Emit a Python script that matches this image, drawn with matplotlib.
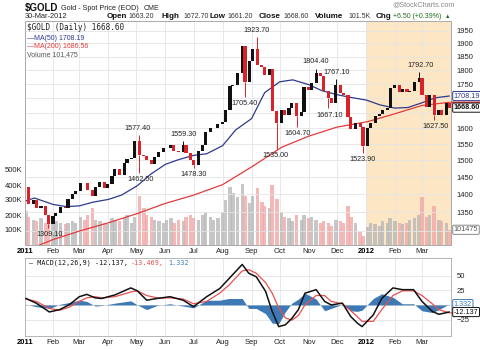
import numpy as np
import pandas as pd
import matplotlib
matplotlib.use('Agg')
import matplotlib.pyplot as plt
from matplotlib import font_manager

names = {f.name for f in font_manager.fontManager.ttflist}
NARROW = 'Liberation Sans Narrow' if 'Liberation Sans Narrow' in names else 'Liberation Sans'
plt.rcParams['font.family'] = [NARROW, 'DejaVu Sans']
MONO = ['DejaVu Sans Mono', 'DejaVu Sans']

# price samples, every 3rd trading day from 3 Jan 2011 to 30 Mar 2012
dates = pd.bdate_range('2011-01-03', '2012-03-30')[::3]
first_open = 1420.0
closes = [1422, 1372, 1384, 1362, 1369, 1344, 1318, 1340, 1348, 1364,
          1362, 1386, 1401, 1410, 1434, 1432, 1414, 1396, 1420, 1437,
          1418, 1431, 1454, 1474, 1457, 1493, 1505, 1506, 1560, 1516,
          1514, 1502, 1489, 1511, 1526, 1537, 1538, 1546, 1529, 1526,
          1548, 1521, 1500, 1486, 1528, 1548, 1588, 1600, 1601, 1615,
          1621, 1659, 1742, 1745, 1790, 1891, 1758, 1834, 1878, 1817,
          1813, 1784, 1805, 1658, 1617, 1660, 1645, 1666, 1683, 1641,
          1655, 1741, 1730, 1755, 1790, 1780, 1724, 1700, 1685, 1747,
          1720, 1713, 1636, 1598, 1617, 1604, 1545, 1601, 1617, 1642,
          1646, 1659, 1667, 1737, 1745, 1722, 1734, 1722, 1725, 1758,
          1773, 1713, 1672, 1711, 1645, 1660, 1645, 1685, 1668.6]
volume_k = [230, 190, 170, 160, 180, 150, 200,
            190, 160, 150, 140, 150, 160, 150,
            190, 170, 200, 250, 170, 160, 150, 140,
            180, 170, 160, 180, 200, 150, 190,
            330, 250, 200, 190, 170, 160, 150,
            170, 180, 150, 170, 160, 190, 200, 180,
            170, 200, 220, 190, 170, 180,
            220, 300, 390, 350, 320, 410, 330, 280,
            330, 380, 290, 260, 250, 400, 310,
            220, 190, 180, 160, 200, 170, 200, 180,
            190, 170, 150, 160, 150, 130, 170,
            160, 150, 260, 190, 150, 90, 60,
            120, 150, 140, 130, 160, 150, 180,
            160, 150, 140, 150, 170, 180, 200,
            320, 190, 200, 260, 170, 160, 150, 101.5]

# labelled highs / lows
mark_dates = ['2011-01-28', '2011-05-02', '2011-05-05', '2011-06-20', '2011-07-01',
              '2011-08-24', '2011-09-06', '2011-09-26', '2011-10-20', '2011-11-08',
              '2011-11-23', '2011-12-01', '2011-12-29', '2012-02-28', '2012-03-15']
mark_prices = [1309.10, 1577.40, 1462.50, 1559.30, 1478.30,
               1705.40, 1923.70, 1535.00, 1604.70, 1804.40,
               1667.10, 1767.10, 1523.90, 1792.70, 1627.50]
mark_is_high = [False, True, False, True, False,
                False, True, False, False, True,
                False, True, False, True, False]

ma50_dates = ['2011-01-03', '2011-01-12', '2011-02-01', '2011-02-15', '2011-03-01',
              '2011-03-15', '2011-04-01', '2011-04-15', '2011-05-02', '2011-05-16',
              '2011-06-01', '2011-06-15', '2011-07-01', '2011-07-15', '2011-08-01',
              '2011-08-15', '2011-09-01', '2011-09-15', '2011-10-01', '2011-10-15',
              '2011-11-01', '2011-11-15', '2011-12-01', '2011-12-15', '2012-01-02',
              '2012-01-16', '2012-02-01', '2012-02-15', '2012-03-01', '2012-03-15',
              '2012-03-30']
ma50 = [1382, 1390, 1372, 1366, 1368, 1378, 1386, 1398, 1425, 1458,
        1488, 1502, 1515, 1520, 1545, 1595, 1632, 1720, 1758, 1765,
        1748, 1727, 1713, 1704, 1694, 1678, 1667, 1669, 1685, 1702, 1708.19]

ma200_dates = ['2011-01-03', '2011-02-01', '2011-03-01', '2011-04-01', '2011-05-02',
               '2011-06-01', '2011-07-01', '2011-08-01', '2011-09-01', '2011-10-03',
               '2011-11-01', '2011-12-01', '2012-01-03', '2012-02-01', '2012-03-01',
               '2012-03-30']
ma200 = [1250, 1278, 1300, 1322, 1347, 1375, 1398, 1428, 1480, 1540,
         1575, 1604, 1622, 1648, 1676, 1686.56]

macd_dates = ['2011-01-03', '2011-01-14', '2011-01-28', '2011-02-08', '2011-02-18',
              '2011-03-01', '2011-03-09', '2011-03-18', '2011-03-25', '2011-04-08',
              '2011-04-25', '2011-05-02', '2011-05-12', '2011-05-23', '2011-06-06',
              '2011-06-20', '2011-07-01', '2011-07-15', '2011-07-29', '2011-08-08',
              '2011-08-22', '2011-08-29', '2011-09-06', '2011-09-16', '2011-09-23',
              '2011-09-30', '2011-10-07', '2011-10-14', '2011-10-21', '2011-10-28',
              '2011-11-09', '2011-11-18', '2011-11-25', '2011-12-07', '2011-12-16',
              '2011-12-23', '2011-12-28', '2012-01-09', '2012-01-18', '2012-01-30',
              '2012-02-09', '2012-02-21', '2012-03-01', '2012-03-12', '2012-03-19',
              '2012-03-30']
macd = [11, 3, -12, -8, 0, 14, 18, 12, 11, 17,
        29, 24, 8, 11, 14, 8, -3, 14, 28, 45,
        69, 54, 48, 23, -11, -37, -34, -23, -8, 20,
        26, 6, 0, 3, -20, -31, -37, -17, 11, 29,
        26, 26, 6, -11, -16, -12.137]
signal = [10, 6, -6, -9, -4, 6, 12, 14, 12, 14,
          22, 24, 16, 12, 12, 10, 2, 6, 20, 34,
          58, 60, 54, 38, 20, -5, -22, -26, -18, 0,
          16, 16, 6, 2, -10, -20, -28, -28, -8, 16,
          24, 24, 16, 2, -8, -13.469]

months = ['2011-01-02', '2011-02-01', '2011-03-01', '2011-04-01', '2011-05-01',
          '2011-06-01', '2011-07-01', '2011-08-01', '2011-09-01', '2011-10-01',
          '2011-11-01', '2011-12-01', '2012-01-01', '2012-02-01', '2012-03-01']
month_labels = ['2011', 'Feb', 'Mar', 'Apr', 'May', 'Jun', 'Jul', 'Aug', 'Sep',
                'Oct', 'Nov', 'Dec', '2012', 'Feb', 'Mar']

closes = np.array(closes, dtype=float)
opens = np.r_[first_open, closes[:-1]]
up = closes >= opens
c_col = np.where(up, '#111111', '#d8232a')
v_col = np.where(up, '#b8b8b8', '#f0a8a8')
month_dt = pd.to_datetime(months)
mark_dt = pd.to_datetime(mark_dates)

fig = plt.figure(figsize=(4.8, 3.5), dpi=100)
ax_v = fig.add_axes([25 / 480, 1 - 245 / 350, 426 / 480, 224 / 350])
ax_p = ax_v.twinx()
ax_m = fig.add_axes([25 / 480, 1 - 336 / 350, 426 / 480, 78 / 350], sharex=ax_v)

xlim = (pd.Timestamp('2011-01-02'), pd.Timestamp('2012-04-01'))
grid_c = '#e4e4e4'

# volume (base axes)
ax_v.axvspan(pd.Timestamp('2012-01-01'), xlim[1], color='#fde6c3', zorder=0, lw=0)
for m in month_dt[1:]:
    ax_v.axvline(m, color=grid_c, lw=0.6, zorder=0.5)
ax_v.bar(dates, np.array(volume_k) * 1000, width=3.6, color=v_col, alpha=0.8, zorder=1)
ax_v.set_ylim(0, 224 / 15 * 100000)
ax_v.set_yticks([100000, 200000, 300000, 400000, 500000])
ax_v.set_yticklabels(['100K', '200K', '300K', '400K', '500K'])
ax_v.tick_params(axis='y', length=0, pad=2, labelsize=5.5, colors='#222222')
ax_v.set_xlim(*xlim)

# price
ax_p.set_yscale('log')
ax_p.set_ylim(1264, 1988)
pticks = list(range(1300, 2000, 50))
ax_p.set_yticks(pticks)
ax_p.set_yticklabels(['' if t in (1300, 1650, 1700) else str(t) for t in pticks])
ax_p.yaxis.set_minor_locator(matplotlib.ticker.NullLocator())
ax_p.tick_params(axis='y', length=0, pad=4, labelsize=5.5, colors='#222222')
for t in pticks:
    ax_p.axhline(t, color=grid_c, lw=0.6, zorder=0)
ax_p.plot(pd.to_datetime(ma200_dates), ma200, color='#e23b3b', lw=0.9, zorder=2)
ax_p.plot(pd.to_datetime(ma50_dates), ma50, color='#2d3a8c', lw=0.9, zorder=2)
ax_p.bar(dates, np.maximum(np.abs(closes - opens), 0.8), bottom=np.minimum(opens, closes),
         width=3.4, color=c_col, zorder=3)
for d, p, hi in zip(mark_dt, mark_prices, mark_is_high):
    i = int(np.argmin(np.abs(dates - d)))
    edge = max(opens[i], closes[i]) if hi else min(opens[i], closes[i])
    ax_p.vlines(dates[i], edge, p, color=c_col[i], lw=0.7, zorder=3)
    ax_p.annotate(f'{p:.2f}', (d, p), xytext=(0, 2.5 if hi else -2.5),
                  textcoords='offset points', ha='center',
                  va='bottom' if hi else 'top', fontsize=5.2, color='#222222', zorder=5)
ax_p.set_xlim(*xlim)

# value boxes on the right
def box(ax, y, text, ec, tc, bold=False):
    ax.annotate(text, (1.0, y), xycoords=('axes fraction', 'data'), xytext=(2, 0),
                textcoords='offset points', ha='left', va='center', fontsize=5.2,
                color=tc, fontweight='bold' if bold else 'normal', annotation_clip=False,
                bbox=dict(boxstyle='round,pad=0.15', fc='white', ec=ec, lw=0.7), zorder=10)

def tag(ax, y, color):
    ax.annotate('', (1.0, y), xycoords=('axes fraction', 'data'), xytext=(24, 0),
                textcoords='offset points', annotation_clip=False,
                arrowprops=dict(arrowstyle='-', color=color, lw=1.2, shrinkA=0, shrinkB=0))

tag(ax_p, 1686.56, '#e23b3b')
box(ax_p, 1708.19, '1708.19', '#2d3a8c', '#2d3a8c')
box(ax_p, 1668.60, '1668.60', '#111111', '#111111', bold=True)
box(ax_v, 101475, '101475', '#888888', '#555555')

# MACD
hist = np.array(macd) - np.array(signal)
mdt = pd.to_datetime(macd_dates)
for m in month_dt[1:]:
    ax_m.axvline(m, color=grid_c, lw=0.6, zorder=0)
for t in [-25, 0, 25, 50]:
    ax_m.axhline(t, color=grid_c, lw=0.6, zorder=0)
ax_m.fill_between(mdt, 0, hist, color='#3d7ab5', lw=0, zorder=1)
ax_m.plot(mdt, signal, color='#e85050', lw=0.9, zorder=2)
ax_m.plot(mdt, macd, color='#111111', lw=1.1, zorder=3)
ax_m.set_ylim(-53, 80)
ax_m.yaxis.tick_right()
ax_m.set_yticks([-25, 25, 50])
ax_m.tick_params(axis='y', length=0, pad=4, labelsize=5.5, colors='#222222')
tag(ax_m, -13.469, '#e85050')
box(ax_m, 1.332, '1.332', '#3d7ab5', '#3d7ab5')
box(ax_m, -12.137, '-12.137', '#111111', '#111111')

for ax in (ax_v, ax_m):
    ax.set_xticks(month_dt)
    ax.set_xticklabels(month_labels)
    ax.tick_params(axis='x', length=0, pad=2, labelsize=5.5, colors='#222222')
    for lab in ax.get_xticklabels():
        if lab.get_text().isdigit():
            lab.set_fontweight('bold')
            lab.set_color('#000000')
plt.setp(ax_p.get_xticklabels(), visible=False)
for ax in (ax_v, ax_p, ax_m):
    for s in ax.spines.values():
        s.set_color('#aaaaaa')
        s.set_linewidth(0.6)

# legends inside panels
def ftxt(x, y, s, **kw):
    fig.text(x / 480, 1 - y / 350, s, va='center', **kw)

ftxt(27, 28, '$GOLD (Daily) 1668.60', fontsize=5.5, family=MONO, color='#222222')
ftxt(27, 38, '\u2014MA(50) 1708.19', fontsize=5.0, color='#2d3a8c')
ftxt(27, 47, '\u2014MA(200) 1686.56', fontsize=5.0, color='#e23b3b')
ftxt(27, 55, 'Volume 101,475', fontsize=5.0, color='#555555')
ftxt(29, 263, '\u2014 MACD(12,26,9) -12.137,', fontsize=4.9, family=MONO, color='#111111')
ftxt(131, 263, '-13.469,', fontsize=4.9, family=MONO, color='#e85050')
ftxt(168, 263, '1.332', fontsize=4.9, family=MONO, color='#3d7ab5')

# header
ftxt(25, 8, '$GOLD', fontsize=7, fontweight='bold', color='#111111')
ftxt(61, 8, 'Gold - Spot Price (EOD)', fontsize=5.2, color='#222222')
ftxt(144, 8, 'CME', fontsize=5.0, color='#222222')
ftxt(25, 16, '30-Mar-2012', fontsize=5.3, color='#222222')
ftxt(392, 5, '@StockCharts.com', fontsize=5.2, color='#888888')
head = [(107, 'Open', True), (128, '1663.20', False), (161, 'High', True),
        (183, '1672.70', False), (209, 'Low', True), (227, '1661.20', False),
        (259, 'Close', True), (283, '1668.60', False), (315, 'Volume', True),
        (348, '101.5K', False), (376, 'Chg', True)]
for x, s, b in head:
    ftxt(x, 16, s, fontsize=5.8 if b else 5.0, fontweight='bold' if b else 'normal',
         color='#111111' if b else '#333333')
ftxt(393, 16, '+6.50 (+0.39%)', fontsize=5.0, color='#1e6e1e')
ftxt(445, 16, '\u25b2', fontsize=4.0, color='#1e6e1e')

fig.savefig('out.png', dpi=100)
